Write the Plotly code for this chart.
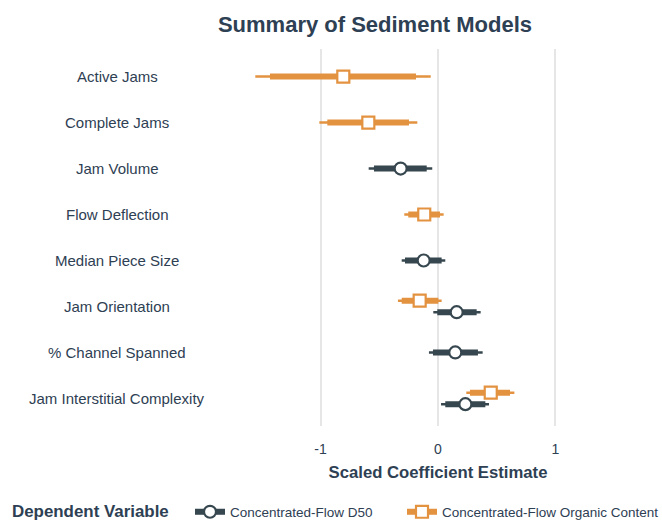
import plotly.graph_objects as go

categories = ["Active Jams", "Complete Jams", "Jam Volume", "Flow Deflection",
              "Median Piece Size", "Jam Orientation", "% Channel Spanned",
              "Jam Interstitial Complexity"]

series_names = ["Concentrated-Flow D50", "Concentrated-Flow Organic Content"]

# Concentrated-Flow D50
d50_est   = [None, None, -0.318, None, -0.122, 0.159, 0.147, 0.233]
d50_lo90  = [None, None, -0.545, None, -0.281, -0.006, -0.043, 0.062]
d50_hi90  = [None, None, -0.096, None, 0.031, 0.329, 0.340, 0.403]
d50_lo95  = [None, None, -0.590, None, -0.309, -0.040, -0.077, 0.026]
d50_hi95  = [None, None, -0.049, None, 0.062, 0.363, 0.380, 0.434]

# Concentrated-Flow Organic Content
org_est   = [-0.806, -0.593, None, -0.117, None, -0.156, None, 0.449]
org_lo90  = [-1.430, -0.942, None, -0.253, None, -0.309, None, 0.272]
org_hi90  = [-0.187, -0.247, None, 0.017, None, 0.003, None, 0.613]
org_lo95  = [-1.555, -1.010, None, -0.287, None, -0.341, None, 0.241]
org_hi95  = [-0.062, -0.176, None, 0.048, None, 0.031, None, 0.650]

x_ticks = [-1, 0, 1]
x_ticktext = ["-1", "0", "1"]

DARK = "#37474F"
ORANGE = "#E39240"
TEXT = "#2E4053"
FONT = "Liberation Sans, Arial, sans-serif"

series = [
    dict(name=series_names[0], est=d50_est, lo90=d50_lo90, hi90=d50_hi90,
         lo95=d50_lo95, hi95=d50_hi95, color=DARK, symbol="circle", dodge=0.125,
         legend="legend"),
    dict(name=series_names[1], est=org_est, lo90=org_lo90, hi90=org_hi90,
         lo95=org_lo95, hi95=org_hi95, color=ORANGE, symbol="square", dodge=-0.125,
         legend="legend2"),
]

fig = go.Figure()

n = len(categories)
for s in series:
    ys = []
    for i in range(n):
        both = d50_est[i] is not None and org_est[i] is not None
        ys.append(i + (s["dodge"] if both else 0))
    xo, yo, xi, yi, xm, ym = [], [], [], [], [], []
    for i in range(n):
        if s["est"][i] is None:
            continue
        xo += [s["lo95"][i], s["hi95"][i], None]
        yo += [ys[i], ys[i], None]
        xi += [s["lo90"][i], s["hi90"][i], None]
        yi += [ys[i], ys[i], None]
        xm.append(s["est"][i])
        ym.append(ys[i])
    fig.add_trace(go.Scatter(x=xo, y=yo, mode="lines",
                             line=dict(color=s["color"], width=2.5),
                             showlegend=False, hoverinfo="skip"))
    fig.add_trace(go.Scatter(x=xi, y=yi, mode="lines",
                             line=dict(color=s["color"], width=6),
                             showlegend=False, hoverinfo="skip"))
    fig.add_trace(go.Scatter(x=xm, y=ym, mode="markers",
                             marker=dict(symbol=s["symbol"], size=12, color="white",
                                         line=dict(color=s["color"], width=2.2)),
                             showlegend=False))
    # legend entry
    fig.add_trace(go.Scatter(x=[None], y=[None], mode="lines+markers", name=s["name"],
                             legend=s["legend"],
                             line=dict(color=s["color"], width=6),
                             marker=dict(symbol=s["symbol"], size=12, color="white",
                                         line=dict(color=s["color"], width=2.2))))

# zero reference line
fig.add_shape(type="line", xref="x", yref="paper", x0=0, x1=0, y0=0, y1=1,
              line=dict(color="#222222", width=1, dash="dash"), layer="below")

ML, MR, MT, MB = 217, 3, 49, 94
plot_w = 662 - ML - MR
plot_h = 520 - MT - MB
for i, c in enumerate(categories):
    fig.add_annotation(x=(117 - ML) / plot_w, xref="paper", y=i, yref="y",
                       text=c, showarrow=False, xanchor="center", yanchor="middle",
                       font=dict(size=15, color=TEXT, family=FONT))

# legend title
fig.add_annotation(x=(10 - ML) / plot_w, xref="paper",
                   y=-(512 - (520 - MB)) / plot_h, yref="paper",
                   text="<b>Dependent Variable</b>", showarrow=False,
                   xanchor="left", yanchor="middle",
                   font=dict(size=16.9, color=TEXT, family=FONT))

legend_common = dict(orientation="h", xref="container", yref="container",
                     xanchor="left", y=1 - 512 / 520, yanchor="middle",
                     font=dict(size=13.5, color=TEXT), itemwidth=30,
                     bgcolor="rgba(0,0,0,0)")

fig.update_layout(
    width=662, height=520,
    margin=dict(l=ML, r=MR, t=MT, b=MB, autoexpand=False),
    paper_bgcolor="white", plot_bgcolor="white",
    font=dict(family=FONT, color=TEXT),
    title=dict(text="<b>Summary of Sediment Models</b>", x=375 / 662, xanchor="center",
               y=1 - 24 / 520, yanchor="middle",
               font=dict(size=22, color=TEXT, family=FONT)),
    xaxis=dict(range=[-1.881, 1.881], tickvals=x_ticks, ticktext=x_ticktext,
               showgrid=True, gridcolor="#E6E6E6", gridwidth=1.5, zeroline=False,
               showline=False, ticks="outside", ticklen=10,
               tickcolor="rgba(0,0,0,0)", tickfont=dict(size=14, color=TEXT),
               automargin=False,
               title=dict(text="<b>Scaled Coefficient Estimate</b>",
                          font=dict(size=16.7, color=TEXT), standoff=10)),
    yaxis=dict(range=[7.6, -0.6], showticklabels=False, showgrid=False,
               zeroline=False, showline=False, ticks="", automargin=False),
    legend=dict(x=190 / 662, **legend_common),
    legend2=dict(x=402 / 662, **legend_common),
    showlegend=True,
)

fig.write_html("out.html", config={"displayModeBar": False},
               post_script="document.body.style.margin='0px';")
